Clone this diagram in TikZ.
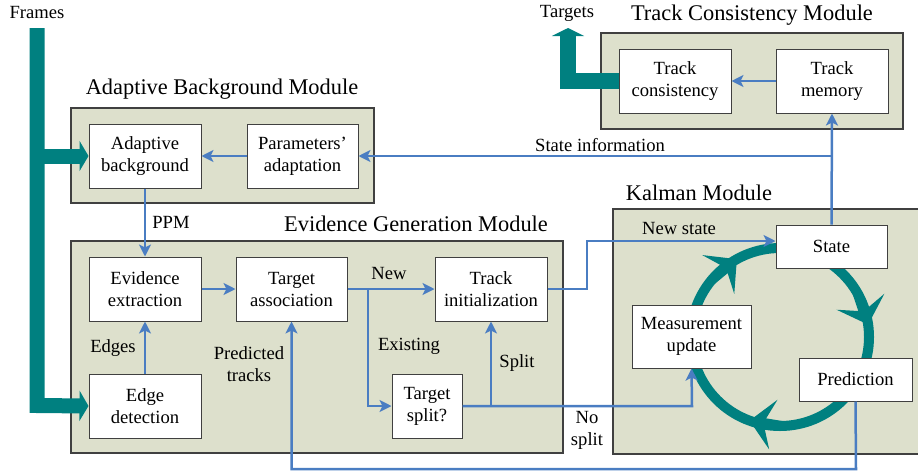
\documentclass[tikz,border=0pt]{standalone}
\usepackage{fontspec}
\setmainfont{Liberation Serif}
\usetikzlibrary{arrows.meta,calc}
\definecolor{modfill}{RGB}{221,224,204}
\definecolor{tealc}{RGB}{0,128,128}
\definecolor{bluec}{RGB}{74,125,194}
\definecolor{edgec}{RGB}{64,64,64}
\begin{document}
\begin{tikzpicture}[x=1pt,y=-1pt,
  module/.style={draw=edgec,line width=1.2pt,fill=modfill},
  box/.style={draw=edgec,line width=1pt,fill=white,align=center,inner sep=0pt,
    font=\fontsize{18.6}{22}\selectfont},
  lbl/.style={align=center,inner sep=0pt,font=\fontsize{18.6}{22}\selectfont},
  ttl/.style={inner sep=0pt,font=\fontsize{22.4}{26}\selectfont},
  arr/.style={draw=bluec,line width=2.5pt,-{Stealth[length=12pt,width=12pt,inset=3pt]}},
  thick teal/.style={draw=tealc,line width=15pt},
  tarr/.style={thick teal,-{Triangle[length=9pt,width=30pt]}},
  ring/.style={draw=tealc,line width=10pt},
  ringarr/.style={draw=tealc,line width=10pt,-{Stealth[length=24pt,width=50pt,inset=10pt]}}
]
\useasboundingbox (0,0) rectangle (918,472);
\clip (0,0) rectangle (918,472);

% modules
\draw[module] (71,108) rectangle (374,203);
\draw[module] (601,33) rectangle (903,129);
\draw[module] (71,241) rectangle (563,453);
\draw[module] (613,209) rectangle (940,454);

% titles
\node[ttl] (tAB) at (222,89) {Adaptive Background Module};
\node[ttl] (tTC) at (752,15) {Track Consistency Module};
\node[ttl] (tEG) at (416,224) {Evidence Generation Module};
\node[ttl] (tKM) at (699,193) {Kalman Module};

% Kalman ring
\draw[ring] (780,337) circle[radius=89pt];
\draw[ringarr] ({780+89*cos(220)},{337+89*sin(220)}) -- ({780+89*cos(241)},{337+89*sin(241)});
\draw[ringarr] ({780+89*cos(331)},{337+89*sin(331)}) -- ({780+89*cos(352)},{337+89*sin(352)});
\draw[ringarr] ({780+89*cos(89)},{337+89*sin(89)}) -- ({780+89*cos(110)},{337+89*sin(110)});

% nodes
\node[box,minimum width=112pt,minimum height=64pt] (adbg) at (145,156) {Adaptive\\background};
\node[box,minimum width=111pt,minimum height=64pt] (param) at (302.5,156) {Parameters'\\adaptation};
\node[box,minimum width=112pt,minimum height=64pt] (tcons) at (675,81) {Track\\consistency};
\node[box,minimum width=112pt,minimum height=64pt] (tmem) at (832,81) {Track\\memory};
\node[box,minimum width=112pt,minimum height=64pt] (evext) at (145,289) {Evidence\\extraction};
\node[box,minimum width=112pt,minimum height=64pt] (edge) at (145,406) {Edge\\detection};
\node[box,minimum width=111pt,minimum height=64pt] (tassoc) at (291.5,289) {Target\\association};
\node[box,minimum width=112pt,minimum height=64pt] (tinit) at (491,289) {Track\\initialization};
\node[box,minimum width=70pt,minimum height=64pt] (tsplit) at (427,406) {Target\\split?};
\node[box,minimum width=111pt,minimum height=43pt] (state) at (831.5,246.5) {State};
\node[box,minimum width=119pt,minimum height=63pt] (meas) at (691.5,336.5) {Measurement\\update};
\node[box,minimum width=113pt,minimum height=43pt] (pred) at (855.5,379.5) {Prediction};

% teal input/output arrows
\coordinate (fr0) at (37,28);
\coordinate (fr1) at (37,405.5);
\coordinate (fr2) at (37,156);
\draw[tarr] (fr0) -- (fr1) -- (edge.west);
\draw[tarr] (fr2) -- (adbg.west);
\coordinate (tg1) at (568,81);
\coordinate (tg2) at (568,28);
\draw[draw=tealc,line width=16pt,-{Triangle[length=8pt,width=32pt]}] (tcons.west) -- (tg1) -- (tg2);

% blue connectors
\draw[arr] (param.west) -- (adbg.east);
\draw[arr] (adbg.south) -- (evext.north);
\draw[arr] (edge.north) -- (evext.south);
\draw[arr] (evext.east) -- (tassoc.west);
\draw[arr] (tassoc.east) -- (tinit.west);
\coordinate (br1) at (368,289);
\coordinate (br2) at (368,406);
\draw[arr] (br1) -- (br2) -- (tsplit.west);
\coordinate (ns1) at (692,406);
\draw[arr] (tsplit.east) -- (ns1) -- (meas.south);
\coordinate (sp1) at (491,406);
\draw[arr] (sp1) -- (tinit.south);
\coordinate (nw1) at (587,289);
\coordinate (nw2) at (587,241);
\draw[arr] (tinit.east) -- (nw1) -- (nw2) -- ([yshift=5.5pt]state.west);
\coordinate (pt1) at (856,469);
\coordinate (pt2) at (291.5,469);
\draw[arr] (pred.south) -- (pt1) -- (pt2) -- (tassoc.south);
\draw[arr] (state.north) -- (tmem.south);
\coordinate (si1) at (832,156);
\draw[arr] (si1) -- (param.east);
\draw[arr] (tmem.west) -- (tcons.east);

% labels
\node[lbl] (lFr) at (37,12.5) {Frames};
\node[lbl] (lTg) at (567,13) {Targets};
\node[lbl] (lSI) at (600,145) {State information};
\node[lbl] (lPPM) at (171,222) {PPM};
\node[lbl] (lNS) at (679,228) {New state};
\node[lbl] (lEd) at (113,348) {Edges};
\node[lbl] (lPT) at (249,364) {Predicted\\tracks};
\node[lbl] (lNew) at (389,273) {New};
\node[lbl] (lEx) at (409,346) {Existing};
\node[lbl] (lSp) at (517,363) {Split};
\node[lbl] (lNo) at (587,430) {No\\split};
\end{tikzpicture}
\end{document}
